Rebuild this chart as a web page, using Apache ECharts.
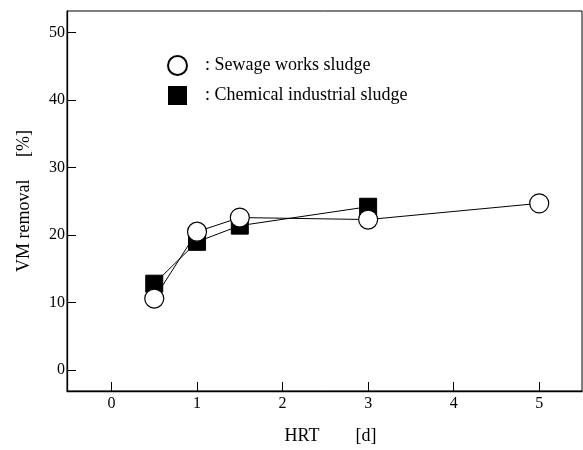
<!DOCTYPE html>
<html>
<head>
<meta charset="utf-8">
<script src="https://cdn.jsdelivr.net/npm/echarts@6/dist/echarts.min.js"></script>
<style>
html, body { margin: 0; padding: 0; background: #fff; }
#chart { width: 583px; height: 450px; }
</style>
</head>
<body>
<div id="chart"></div>
<script>
// HRT [d] and VM removal [%]
var hrtSewage = [0.5, 1, 1.5, 3, 5];
var vmSewage = [10.6, 20.5, 22.6, 22.3, 24.7];
var hrtChem = [0.5, 1, 1.5, 3];
var vmChem = [12.8, 19.0, 21.4, 24.2];
var xTicks = [0, 1, 2, 3, 4, 5];
var yTicks = [0, 10, 20, 30, 40, 50];

function pairs(xs, ys) {
    return xs.map(function (x, i) { return [x, ys[i]]; });
}

var font = '"Liberation Serif", "DejaVu Serif", serif';
var myChart = echarts.init(document.getElementById('chart'));

myChart.setOption({
    animation: false,
    grid: {
        left: 67, right: 1, top: 11, bottom: 57,
        show: true, borderColor: '#000', borderWidth: 1
    },
    legend: {
        orient: 'vertical',
        left: 162, top: 50,
        itemWidth: 19, itemHeight: 19, itemGap: 10,
        data: [
            { name: 'Sewage works sludge', icon: 'circle' },
            { name: 'Chemical industrial sludge', icon: 'rect' }
        ],
        formatter: function (n) { return ': ' + n; },
        textStyle: { fontFamily: font, fontSize: 18, color: '#000', padding: [0, 0, 0, 13] }
    },
    xAxis: {
        type: 'value', min: -0.52, max: 5.5,
        name: 'HRT        [d]', nameLocation: 'middle', nameGap: 36,
        nameTextStyle: { fontFamily: font, fontSize: 18, color: '#000', padding: [0, 0, 0, 12] },
        axisLine: { onZero: false, lineStyle: { color: '#000', width: 1.3 } },
        axisTick: { inside: true, length: 9, customValues: xTicks, lineStyle: { color: '#000' } },
        axisLabel: { customValues: xTicks, margin: 5, fontFamily: font, fontSize: 16, color: '#000' },
        splitLine: { show: false }
    },
    yAxis: {
        type: 'value', min: -3.1, max: 53.2,
        name: 'VM removal     [%]', nameLocation: 'middle', nameGap: 34,
        nameTextStyle: { fontFamily: font, fontSize: 18, color: '#000' },
        axisLine: { onZero: false, lineStyle: { color: '#000', width: 1.3 } },
        axisTick: { inside: true, length: 9, customValues: yTicks, lineStyle: { color: '#000' } },
        axisLabel: { customValues: yTicks, margin: 2, fontFamily: font, fontSize: 16, color: '#000' },
        splitLine: { show: false }
    },
    series: [{
        name: 'Chemical industrial sludge',
        type: 'line',
        data: pairs(hrtChem, vmChem),
        symbol: 'rect', symbolSize: 17,
        itemStyle: { color: '#000', borderColor: '#000' },
        lineStyle: { color: '#000', width: 1 },
        z: 2
    }, {
        name: 'Sewage works sludge',
        type: 'line',
        data: pairs(hrtSewage, vmSewage),
        symbol: 'circle', symbolSize: 19,
        itemStyle: { color: '#fff', borderColor: '#000', borderWidth: 1.2 },
        lineStyle: { color: '#000', width: 1 },
        z: 3
    }]
});
</script>
</body>
</html>
